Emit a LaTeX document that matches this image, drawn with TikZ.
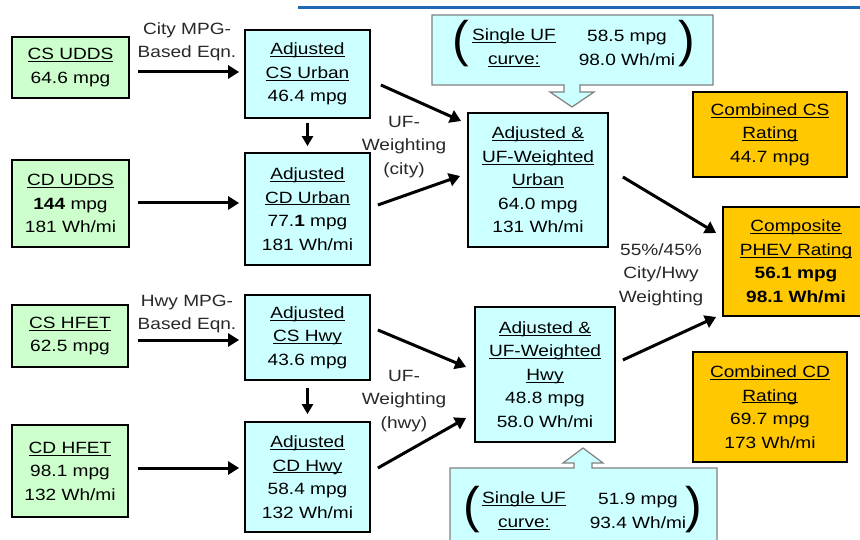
\documentclass[tikz,border=0pt]{standalone}
\usepackage{fontspec}
\setmainfont{Liberation Sans}[FakeStretch=1.17]
\newfontfamily\parenfont{Liberation Sans}
\usetikzlibrary{arrows.meta}
\definecolor{boxgreen}{RGB}{204,255,204}
\definecolor{boxcyan}{RGB}{204,255,255}
\definecolor{boxorange}{RGB}{255,200,0}
\definecolor{calloutgray}{RGB}{128,128,128}
\definecolor{topblue}{RGB}{31,105,180}
\definecolor{lbltext}{RGB}{40,40,40}
\newsavebox\myulbox
\newcommand\myul[1]{\sbox\myulbox{#1}\rlap{\rule[-2.4pt]{\wd\myulbox}{1pt}}\usebox\myulbox}
\begin{document}
\begin{tikzpicture}[x=1pt,y=-1pt,
  font=\fontsize{16.3}{23.5}\selectfont,
  box/.style={draw=black, line width=1.8pt, align=center, inner sep=0pt},
  greenbox/.style={box, fill=boxgreen},
  cyanbox/.style={box, fill=boxcyan},
  orangebox/.style={box, fill=boxorange},
  callout/.style={draw=calloutgray, line width=1.2pt, fill=boxcyan, line join=miter},
  paren/.style={inner sep=0pt, font=\parenfont\fontsize{50}{50}\selectfont},
  lbl/.style={align=center, inner sep=0pt, text=lbltext},
  arr/.style={line width=3pt, -{Triangle[length=11pt,width=13pt]}}]
\useasboundingbox (0,0) rectangle (860,540);
\clip (0,0) rectangle (860,540);
\fill[white] (0,0) rectangle (860,540);
% top rule
\draw[topblue, line width=3pt] (298,8) -- (860,8);

% callouts
\draw[callout] (432,15) -- (713,15) -- (713,85) -- (580,85) -- (580,92) -- (594,92)
  -- (572,107) -- (550,92) -- (564,92) -- (564,85) -- (432,85) -- cycle;
\draw[callout] (450,546) -- (450,468) -- (574,468) -- (574,463) -- (563,463) -- (583,448)
  -- (603,463) -- (592,463) -- (592,468) -- (717,468) -- (717,546);

\node[paren] (lp1) at (461,44) {(};
\node[paren] (rp1) at (686.5,44) {)};
\node[lbl, text=black] (ufl1) at (514,48) {\myul{Single UF}\\\myul{curve:}};
\node[lbl, text=black] (ufr1) at (627,48) {58.5 mpg\\98.0 Wh/mi};

\node[paren] (lp2) at (471.5,510) {(};
\node[paren] (rp2) at (694,510) {)};
\node[lbl, text=black] (ufl2) at (524,511) {\myul{Single UF}\\\myul{curve:}};
\node[lbl, text=black] (ufr2) at (638,511) {51.9 mpg\\93.4 Wh/mi};

% left input boxes
\node[greenbox, minimum width=117pt, minimum height=61pt] (csudds) at (70.5,67.5)
  {\myul{CS UDDS}\\64.6 mpg};
\node[greenbox, minimum width=117pt, minimum height=87pt] (cdudds) at (70.5,203.5)
  {\myul{CD UDDS}\\\textbf{144} mpg\\181 Wh/mi};
\node[greenbox, minimum width=116pt, minimum height=62pt] (cshfet) at (70,336)
  {\myul{CS HFET}\\62.5 mpg};
\node[greenbox, minimum width=116pt, minimum height=92pt] (cdhfet) at (70,471)
  {\myul{CD HFET}\\98.1 mpg\\132 Wh/mi};

% adjusted boxes
\node[cyanbox, minimum width=125pt, minimum height=88pt] (csurban) at (307.5,74)
  {\myul{Adjusted}\\\myul{CS Urban}\\46.4 mpg};
\node[cyanbox, minimum width=125pt, minimum height=112pt] (cdurban) at (307.5,209)
  {\myul{Adjusted}\\\myul{CD Urban}\\77.\textbf{1} mpg\\181 Wh/mi};
\node[cyanbox, minimum width=125pt, minimum height=85pt] (cshwy) at (307.5,337.5)
  {\myul{Adjusted}\\\myul{CS Hwy}\\43.6 mpg};
\node[cyanbox, minimum width=125pt, minimum height=110pt] (cdhwy) at (307.5,477)
  {\myul{Adjusted}\\\myul{CD Hwy}\\58.4 mpg\\132 Wh/mi};

% UF weighted boxes
\node[cyanbox, minimum width=140pt, minimum height=134pt] (ufurban) at (538,180)
  {\myul{Adjusted \&}\\\myul{UF-Weighted}\\\myul{Urban}\\64.0 mpg\\131 Wh/mi};
\node[cyanbox, minimum width=140pt, minimum height=135pt] (ufhwy) at (545,374.5)
  {\myul{Adjusted \&}\\\myul{UF-Weighted}\\\myul{Hwy}\\48.8 mpg\\58.0 Wh/mi};

% ratings
\node[orangebox, minimum width=154pt, minimum height=85pt] (combcs) at (770,134.5)
  {\myul{Combined CS}\\\myul{Rating}\\44.7 mpg};
\node[orangebox, minimum width=146pt, minimum height=109pt] (composite) at (796,261.5)
  {\myul{Composite}\\\myul{PHEV Rating}\\\textbf{56.1 mpg}\\\textbf{98.1 Wh/mi}};
\node[orangebox, minimum width=154pt, minimum height=110pt] (combcd) at (770,407)
  {\myul{Combined CD}\\\myul{Rating}\\69.7 mpg\\173 Wh/mi};

% labels
\node[lbl] (lcity) at (187,41.7) {City MPG-\\Based Eqn.};
\node[lbl] (lhwy) at (187,314) {Hwy MPG-\\Based Eqn.};
\node[lbl] (ufwcity) at (404,147) {UF-\\Weighting\\(city)};
\node[lbl] (ufwhwy) at (404,401) {UF-\\Weighting\\(hwy)};
\node[lbl] (wcityhwy) at (661,274.7) {55\%/45\%\\City/Hwy\\Weighting};

% arrows
\draw[arr] ([xshift=8pt,yshift=-4.5pt]csudds.east) -- ([xshift=-5pt,yshift=2pt]csurban.west);
\draw[arr] ([xshift=8pt,yshift=0.5pt]cdudds.east) -- ([xshift=-5pt,yshift=6pt]cdurban.west);
\draw[arr] ([xshift=9pt,yshift=-4pt]cshfet.east) -- ([xshift=-5pt,yshift=-2.5pt]cshwy.west);
\draw[arr] ([xshift=9pt,yshift=3pt]cdhfet.east) -- ([xshift=-5pt,yshift=9pt]cdhwy.west);
\draw[arr, -{Triangle[length=10pt,width=11pt]}] ([yshift=-4pt]csurban.south) -- ([yshift=6pt]cdurban.north);
\draw[arr, -{Triangle[length=10pt,width=11pt]}] ([yshift=-7pt]cshwy.south) -- ([yshift=7pt]cdhwy.north);
\draw[arr] ([xshift=10pt,yshift=-11pt]csurban.east) -- ([xshift=-6pt,yshift=59pt]ufurban.west);
\draw[arr] ([xshift=7pt,yshift=4pt]cdurban.east) -- ([xshift=-7pt,yshift=4pt]ufurban.west);
\draw[arr] ([xshift=7pt,yshift=7.5pt]cshwy.east) -- ([xshift=-8pt,yshift=7.5pt]ufhwy.west);
\draw[arr] ([xshift=7pt,yshift=9pt]cdhwy.east) -- ([xshift=-8pt,yshift=-43.5pt]ufhwy.west);
\draw[arr] ([xshift=14pt,yshift=3pt]ufurban.east) -- ([xshift=-6pt,yshift=28.5pt]composite.west);
\draw[arr] ([xshift=7pt,yshift=14.5pt]ufhwy.east) -- ([xshift=-6pt,yshift=-55.5pt]composite.west);
\end{tikzpicture}
\end{document}
